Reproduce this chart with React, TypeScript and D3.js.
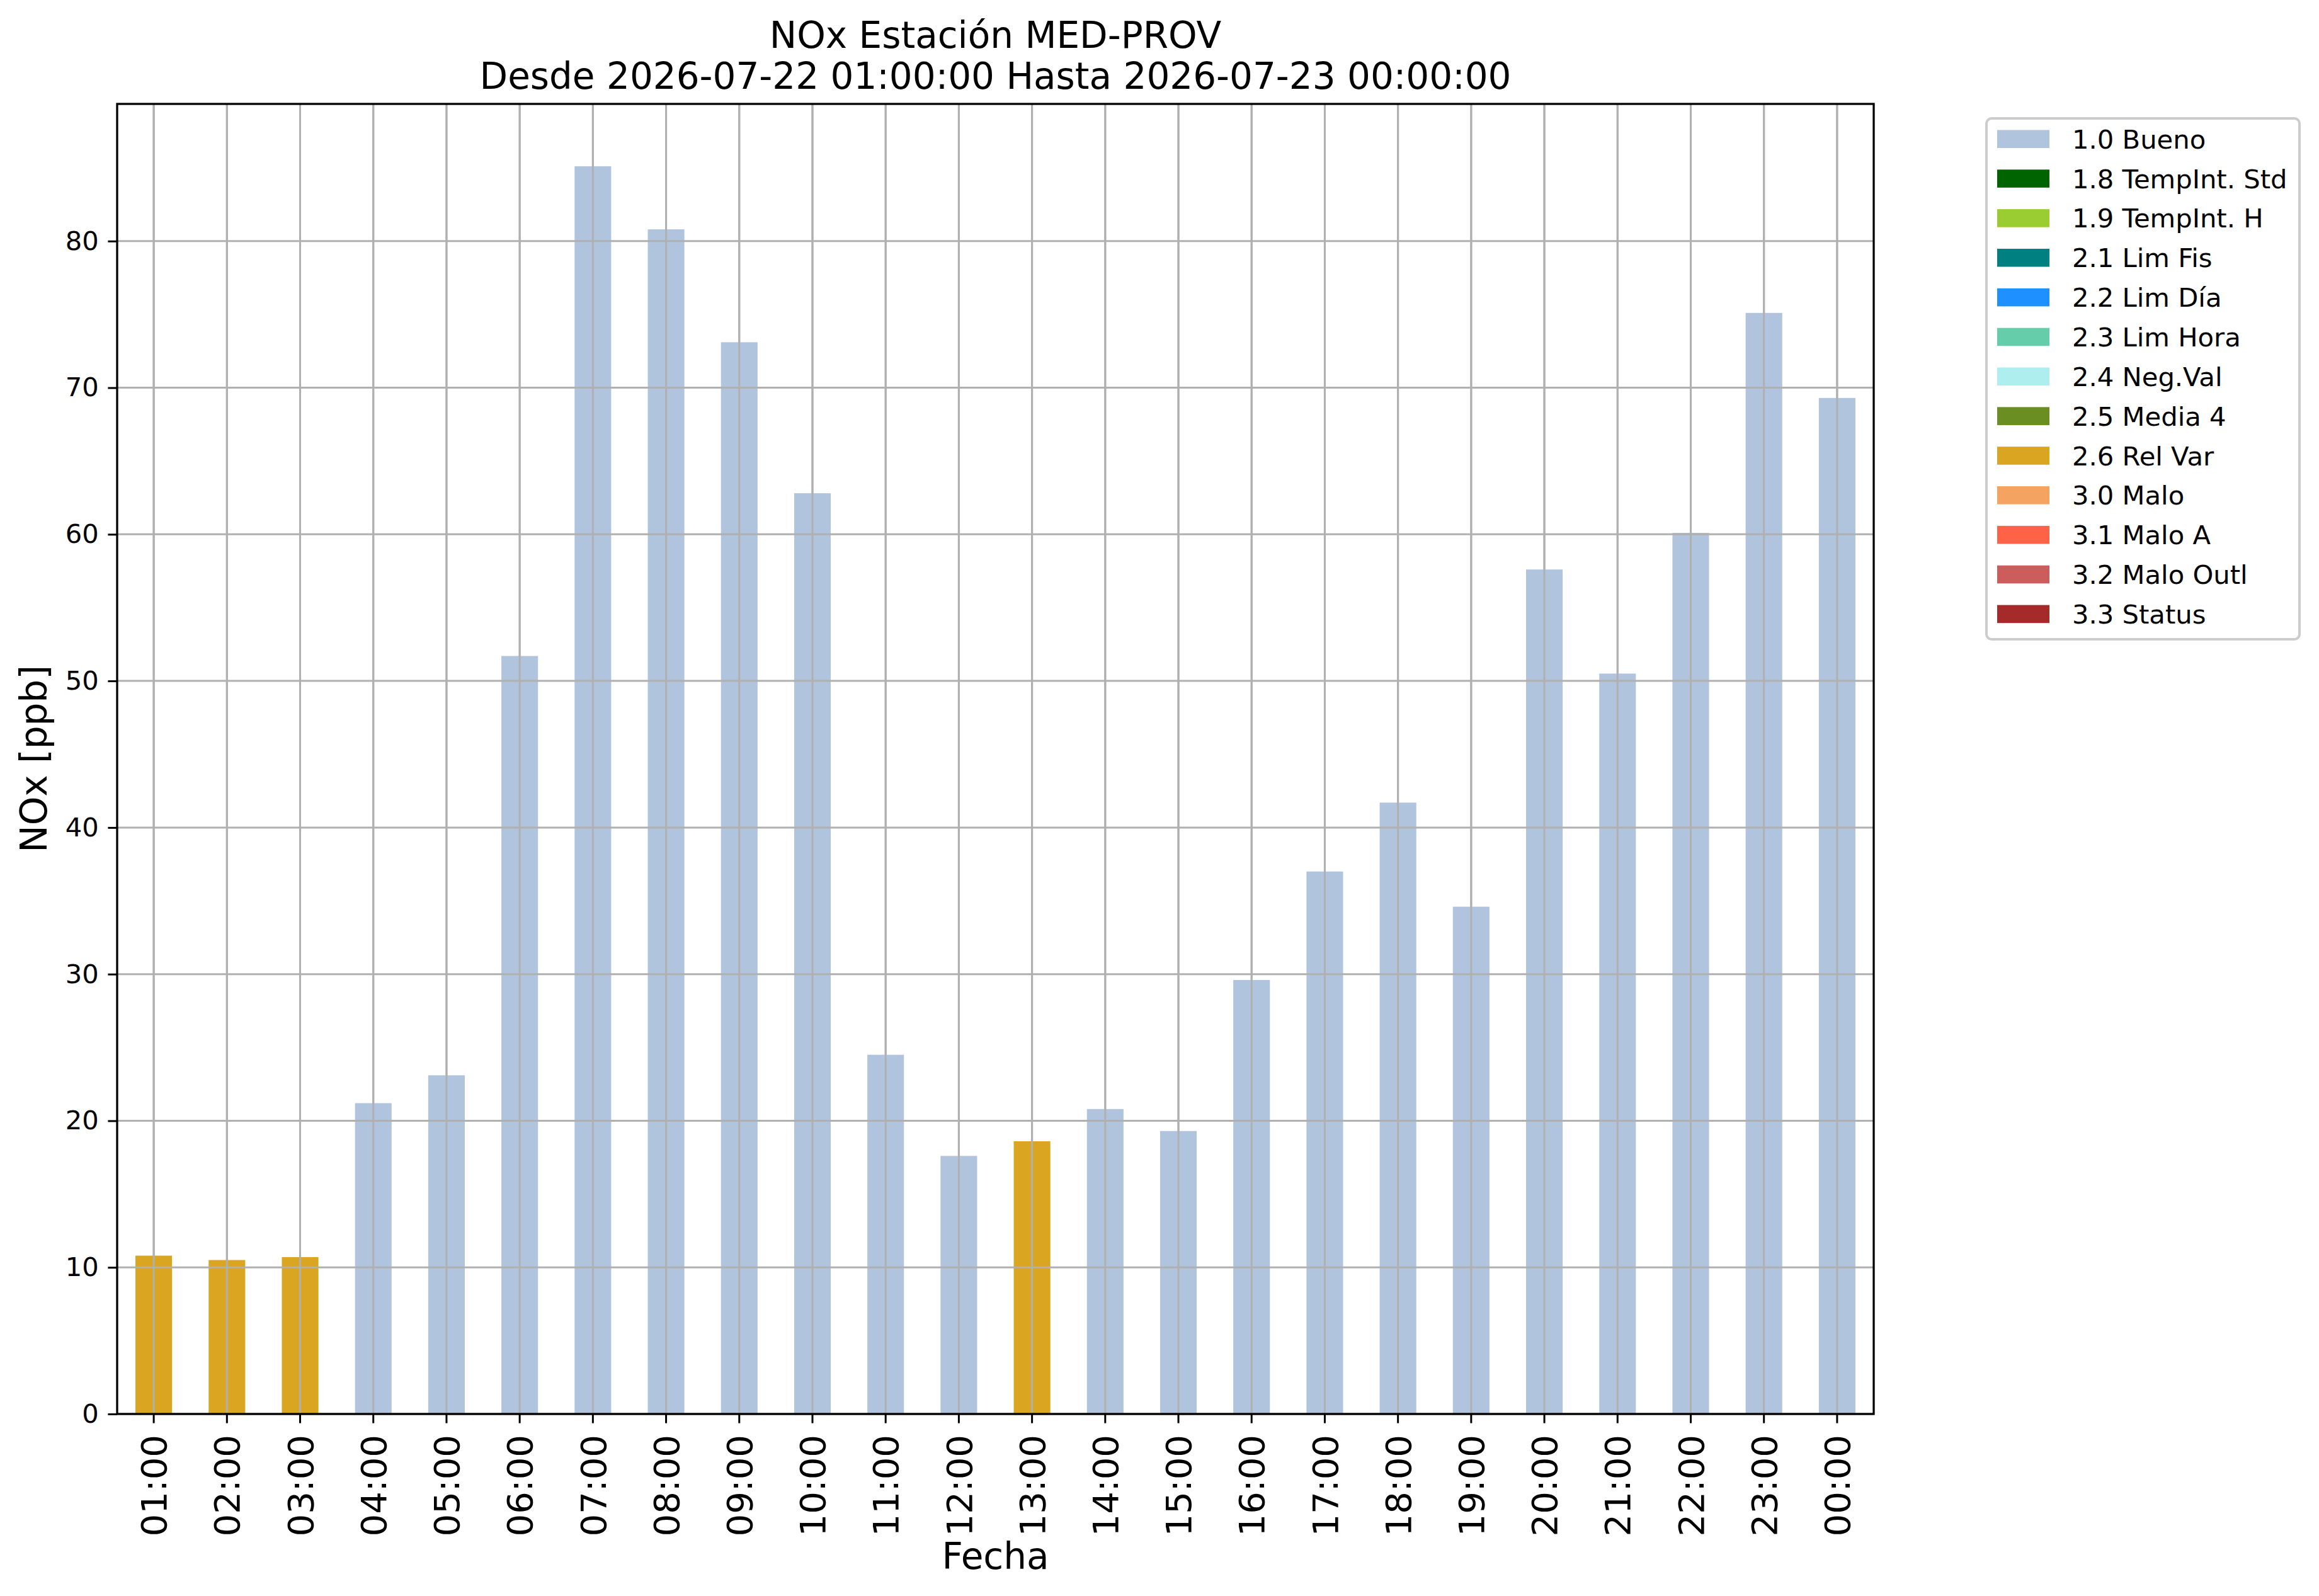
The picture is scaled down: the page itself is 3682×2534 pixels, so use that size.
import React, { useEffect, useRef } from "react";
import * as d3 from "d3";

// horas (eje x)
const hours = [
  "01:00", "02:00", "03:00", "04:00", "05:00", "06:00", "07:00", "08:00",
  "09:00", "10:00", "11:00", "12:00", "13:00", "14:00", "15:00", "16:00",
  "17:00", "18:00", "19:00", "20:00", "21:00", "22:00", "23:00", "00:00",
];

// valores NOx [ppb]
const noxValues = [
  10.8, 10.5, 10.7, 21.2, 23.1, 51.7, 85.1, 80.8,
  73.1, 62.8, 24.5, 17.6, 18.6, 20.8, 19.3, 29.6,
  37.0, 41.7, 34.6, 57.6, 50.5, 60.1, 75.1, 69.3,
];

// flag de calidad por hora
const flags = [
  "2.6 Rel Var", "2.6 Rel Var", "2.6 Rel Var", "1.0 Bueno", "1.0 Bueno", "1.0 Bueno",
  "1.0 Bueno", "1.0 Bueno", "1.0 Bueno", "1.0 Bueno", "1.0 Bueno", "1.0 Bueno",
  "2.6 Rel Var", "1.0 Bueno", "1.0 Bueno", "1.0 Bueno", "1.0 Bueno", "1.0 Bueno",
  "1.0 Bueno", "1.0 Bueno", "1.0 Bueno", "1.0 Bueno", "1.0 Bueno", "1.0 Bueno",
];

// categorias de la leyenda
const flagNames = [
  "1.0 Bueno", "1.8 TempInt. Std", "1.9 TempInt. H", "2.1 Lim Fis", "2.2 Lim Día",
  "2.3 Lim Hora", "2.4 Neg.Val", "2.5 Media 4", "2.6 Rel Var", "3.0 Malo",
  "3.1 Malo A", "3.2 Malo Outl", "3.3 Status",
];

const flagColors = [
  "#B0C4DE", "#006400", "#9ACD32", "#008080", "#1E90FF",
  "#66CDAA", "#AFEEEE", "#6B8E23", "#DAA520", "#F4A460",
  "#FF6347", "#CD5C5C", "#A52A2A",
];

const yTicks = [0, 10, 20, 30, 40, 50, 60, 70, 80];

const W = 3682;
const H = 2534;
const FONT = "DejaVu Sans, sans-serif";

const App: React.FC = () => {
  const svgRef = useRef<SVGSVGElement | null>(null);

  useEffect(() => {
    document.body.style.margin = "0";
    const svg = d3.select(svgRef.current);
    svg.selectAll("*").remove();

    const margin = { top: 165, right: 707, bottom: 289, left: 186 };
    const innerW = W - margin.left - margin.right;
    const innerH = H - margin.top - margin.bottom;

    svg.attr("width", W).attr("height", H).style("background", "#fff");

    const g = svg
      .append("g")
      .attr("transform", `translate(${margin.left}, ${margin.top})`);

    const x = d3.scaleBand().domain(hours).range([0, innerW]).paddingInner(0.5).paddingOuter(0.25);
    const yMax = (d3.max(noxValues) || 0) * 1.05;
    const y = d3.scaleLinear().domain([0, yMax]).range([innerH, 0]);
    const color = d3.scaleOrdinal<string, string>().domain(flagNames).range(flagColors);

    // ✅ grilla
    g.append("g")
      .selectAll("line")
      .data(hours)
      .enter()
      .append("line")
      .attr("x1", (d) => x(d)! + x.bandwidth() / 2)
      .attr("x2", (d) => x(d)! + x.bandwidth() / 2)
      .attr("y1", 0)
      .attr("y2", innerH)
      .attr("stroke", "#b0b0b0")
      .attr("stroke-width", 3);

    const rows = hours.map((h, i) => ({ hour: h, value: noxValues[i], flag: flags[i] }));

    // ✅ barras
    g.append("g")
      .selectAll("rect")
      .data(rows)
      .enter()
      .append("rect")
      .attr("x", (d) => x(d.hour)!)
      .attr("width", x.bandwidth())
      .attr("y", (d) => y(d.value))
      .attr("height", (d) => innerH - y(d.value))
      .attr("fill", (d) => color(d.flag));

    // grilla horizontal encima de las barras (como matplotlib)
    g.append("g")
      .selectAll("line")
      .data(yTicks)
      .enter()
      .append("line")
      .attr("x1", 0)
      .attr("x2", innerW)
      .attr("y1", (d) => y(d))
      .attr("y2", (d) => y(d))
      .attr("stroke", "#b0b0b0")
      .attr("stroke-width", 3);

    g.append("g")
      .selectAll("line")
      .data(hours)
      .enter()
      .append("line")
      .attr("x1", (d) => x(d)! + x.bandwidth() / 2)
      .attr("x2", (d) => x(d)! + x.bandwidth() / 2)
      .attr("y1", 0)
      .attr("y2", innerH)
      .attr("stroke", "#b0b0b0")
      .attr("stroke-width", 3);

    // ✅ eje Y
    const yAxis = g
      .append("g")
      .call(d3.axisLeft(y).tickValues(yTicks).tickSize(14.6).tickPadding(14.6));
    yAxis.select(".domain").remove();
    yAxis.selectAll("line").attr("stroke", "#000").attr("stroke-width", 3);
    yAxis.selectAll("text").style("font-size", "41.7px").style("font-family", FONT).attr("fill", "#000");

    // ✅ eje X
    const xAxis = g
      .append("g")
      .attr("transform", `translate(0, ${innerH})`)
      .call(d3.axisBottom(x).tickSize(14.6).tickPadding(0));
    xAxis.select(".domain").remove();
    xAxis.selectAll("line").attr("stroke", "#000").attr("stroke-width", 3);
    xAxis
      .selectAll("text")
      .attr("transform", "rotate(-90)")
      .attr("x", -33)
      .attr("y", 0)
      .attr("dy", "0.36em")
      .attr("text-anchor", "end")
      .style("font-size", "56px")
      .style("font-family", FONT)
      .attr("fill", "#000");

    // marco
    g.append("rect")
      .attr("x", 0)
      .attr("y", 0)
      .attr("width", innerW)
      .attr("height", innerH)
      .attr("fill", "none")
      .attr("stroke", "#000")
      .attr("stroke-width", 3.3);

    // ✅ títulos
    const title = svg
      .append("text")
      .attr("text-anchor", "middle")
      .style("font-family", FONT)
      .style("font-size", "58px")
      .attr("fill", "#000");
    title.append("tspan").attr("x", margin.left + innerW / 2).attr("y", 76).text("NOx Estación MED-PROV");
    title
      .append("tspan")
      .attr("x", margin.left + innerW / 2)
      .attr("y", 141)
      .text("Desde 2026-07-22 01:00:00 Hasta 2026-07-23 00:00:00");

    svg
      .append("text")
      .attr("x", margin.left + innerW / 2)
      .attr("y", 2491)
      .attr("text-anchor", "middle")
      .style("font-family", FONT)
      .style("font-size", "58px")
      .text("Fecha");

    svg
      .append("text")
      .attr("transform", `translate(74, ${margin.top + innerH / 2}) rotate(-90)`)
      .attr("text-anchor", "middle")
      .style("font-family", FONT)
      .style("font-size", "58px")
      .text("NOx [ppb]");

    // ✅ leyenda
    const legend = svg.append("g").attr("transform", "translate(3154, 188)");
    legend
      .append("rect")
      .attr("width", 497)
      .attr("height", 827)
      .attr("rx", 8)
      .attr("fill", "#fff")
      .attr("stroke", "#cccccc")
      .attr("stroke-width", 4);

    const item = legend
      .selectAll("g.item")
      .data(flagNames)
      .enter()
      .append("g")
      .attr("class", "item")
      .attr("transform", (_, i) => `translate(0, ${32.7 + i * 62.85})`);

    item
      .append("rect")
      .attr("x", 17)
      .attr("y", -14.3)
      .attr("width", 83)
      .attr("height", 28.6)
      .attr("fill", (d) => color(d));

    item
      .append("text")
      .attr("x", 136)
      .attr("y", 15)
      .style("font-family", FONT)
      .style("font-size", "41.7px")
      .text((d) => d);
  }, []);

  return (
    <div>
      <svg ref={svgRef}></svg>
    </div>
  );
};

export default App;
